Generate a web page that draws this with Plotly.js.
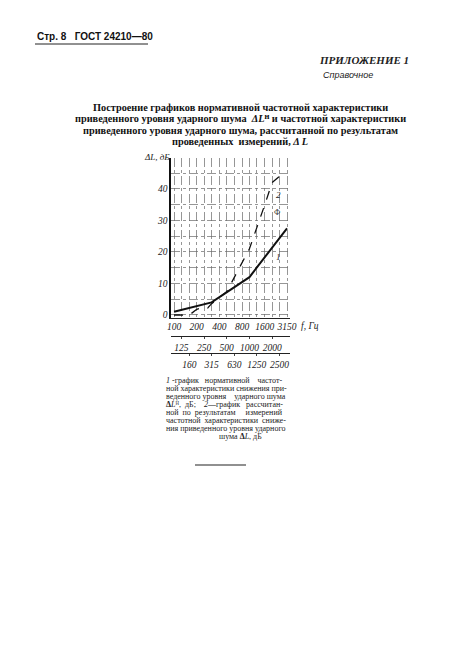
<!DOCTYPE html>
<html>
<head>
<meta charset="utf-8">
<script src="https://cdn.plot.ly/plotly-3.0.1.min.js"></script>
<style>
html,body{margin:0;padding:0;background:#fff;}
#chart{width:455px;height:653px;}
</style>
</head>
<body>
<div id="chart"></div>
<script>
// ---- data ----
const freqNorm = [100, 315, 1000, 1600, 3150];          // curve 1 (normative)
const dLNorm   = [1.0, 4.0, 12.0, 18.2, 27.5];
const freqCalc = [100, 160, 200, 250, 280, 315, 500, 1000, 1600, 2000, 2500, 3150]; // curve 2 (calculated)
const dLCalc   = [0.0, 0.0, 1.8, 2.6, 2.2, 3.6, 7.4, 21.0, 35.0, 42.0, 44.0, 44.0];
const mainTicks  = [100, 200, 400, 800, 1600, 3150];
const row2Ticks  = [125, 250, 500, 1000, 2000];
const row3Ticks  = [160, 315, 630, 1250, 2500];
const yTicks     = [0, 10, 20, 30, 40];

const W = 455, H = 653;
const px = x => x / W;
const py = y => 1 - y / H;

const xDom = [px(171), px(290)];
const xRange = [1.96, 3.538];
const yRange = [-0.8, 49.8];
const tickFont = {family: 'Liberation Serif', size: 9.5, color: '#222', style: 'italic'};
const gridStyle = {showgrid: true, gridcolor: '#6a6a6a', gridwidth: 0.7, griddash: 'dashdot'};

const traces = [
  {x: freqCalc, y: dLCalc, mode: 'lines', line: {color: '#111', width: 1.3, dash: 'dash'}, showlegend: false, hoverinfo: 'skip'},
  {x: freqNorm, y: dLNorm, mode: 'lines', line: {color: '#111', width: 2}, showlegend: false, hoverinfo: 'skip'},
  {x: row2Ticks, y: row2Ticks.map(() => null), xaxis: 'x2', yaxis: 'y', mode: 'lines', showlegend: false, hoverinfo: 'skip'},
  {x: row3Ticks, y: row3Ticks.map(() => null), xaxis: 'x3', yaxis: 'y', mode: 'lines', showlegend: false, hoverinfo: 'skip'}
];

const serif = 'Liberation Serif';
const ann = [];
function t(text, x, y, opt) {
  ann.push(Object.assign({text: text, x: px(x), y: py(y), xref: 'paper', yref: 'paper', showarrow: false,
    xanchor: 'left', yanchor: 'middle', font: {family: serif, size: 9, color: '#111'}}, opt || {}));
}
// header
t('<b>Стр. 8   ГОСТ 24210—80</b>', 35, 36, {font: {family: 'Liberation Sans', size: 10, color: '#111'}});
t('<b><i>ПРИЛОЖЕНИЕ 1</i></b>', 317, 60, {font: {family: serif, size: 11, color: '#222'}});
t('<i>Справочное</i>', 321, 75, {font: {family: 'Liberation Sans', size: 9, color: '#222'}});
// title
const titleLines = [
  'Построение графиков нормативной частотной характеристики',
  'приведенного уровня ударного шума  <i>ΔL</i>ᴴ и частотной характеристики',
  'приведенного уровня ударного шума, рассчитанной по результатам',
  'проведенных  измерений, <i>Δ L</i>'
];
const titleY = [107, 118.5, 130, 141.5];
titleLines.forEach((s, i) => t('<b>' + s + '</b>', 240, titleY[i], {xanchor: 'center', font: {family: serif, size: 10.3, color: '#111'}}));
// axis titles
t('<i>ΔL, дБ</i>', 157, 157, {xanchor: 'center', font: {family: serif, size: 9, color: '#222'}});
t('<i>f, Гц</i>', 299, 326, {font: {family: serif, size: 9.5, color: '#222'}});
// curve labels
ann.push({text: '<i>1</i>', x: Math.log10(2400), y: 18.5, xref: 'x', yref: 'y', showarrow: false, font: {family: serif, size: 9, color: '#222'}});
ann.push({text: '<i>2</i>', x: Math.log10(2450), y: 38, xref: 'x', yref: 'y', showarrow: false, font: {family: serif, size: 9, color: '#222'}});
ann.push({text: 'Ф', x: Math.log10(2350), y: 32.5, xref: 'x', yref: 'y', showarrow: false, font: {family: serif, size: 8, color: '#444'}});
// caption
const capLines = [
  '<i>1</i> -график   нормативной    частот-',
  'ной характеристики снижения при-',
  'веденного уровня    ударного шума',
  '<b>Δ</b><i>L</i>ᴴ,  дБ;    <i>2</i>—график   рассчитан-',
  'ной  по  результатам     измерений',
  'частотной  характеристики  сниже-',
  'ния приведенного уровня ударного'
];
const capY = [380, 388, 396, 404, 412, 420, 428];
capLines.forEach((s, i) => t(s, 164, capY[i], {font: {family: serif, size: 8, color: '#222'}}));
t('шума <b>Δ</b><i>L</i>, дБ', 240, 436, {xanchor: 'center', font: {family: serif, size: 8, color: '#222'}});

const shapes = [
  {type: 'line', xref: 'paper', yref: 'paper', x0: px(35), x1: px(148), y0: py(44), y1: py(44), line: {color: '#222', width: 1}},
  {type: 'line', xref: 'paper', yref: 'paper', x0: px(195), x1: px(246), y0: py(465), y1: py(465), line: {color: '#222', width: 1.2}}
];

const layout = {
  width: W, height: H,
  margin: {l: 0, r: 0, t: 0, b: 0},
  paper_bgcolor: '#fff', plot_bgcolor: '#fff',
  showlegend: false,
  xaxis: Object.assign({type: 'log', domain: xDom, range: xRange, tickmode: 'array', tickvals: mainTicks,
    ticktext: mainTicks.map(String), tickfont: tickFont, showline: true, linecolor: '#222', linewidth: 1,
    ticks: '', zeroline: false, anchor: 'y'}, gridStyle),
  xaxis2: Object.assign({type: 'log', domain: xDom, range: xRange, overlaying: 'x', anchor: 'free', side: 'bottom',
    position: py(336), tickmode: 'array', tickvals: row2Ticks, ticktext: row2Ticks.map(String), tickfont: tickFont,
    showline: true, linecolor: '#222', linewidth: 1.2, ticks: 'outside', ticklen: 2, tickcolor: '#444'}, gridStyle),
  xaxis3: Object.assign({type: 'log', domain: xDom, range: xRange, overlaying: 'x', anchor: 'free', side: 'bottom',
    position: py(353), tickmode: 'array', tickvals: row3Ticks, ticktext: row3Ticks.map(String), tickfont: tickFont,
    showline: true, linecolor: '#222', linewidth: 1.2, ticks: 'outside', ticklen: 2, tickcolor: '#444'}, gridStyle),
  yaxis: Object.assign({domain: [py(317.5), py(158)], range: yRange, tickmode: 'array', tickvals: yTicks,
    ticktext: yTicks.map(String), tickfont: tickFont, showline: true, linecolor: '#111', linewidth: 1.6,
    ticks: '', zeroline: false, anchor: 'x',
    minor: {tickmode: 'array', tickvals: [5, 15, 25, 35, 45], showgrid: true, gridcolor: '#6a6a6a', gridwidth: 0.7, griddash: 'dashdot'}}, gridStyle),
  annotations: ann,
  shapes: shapes
};

Plotly.newPlot('chart', traces, layout, {staticPlot: true, displayModeBar: false});
</script>
</body>
</html>
